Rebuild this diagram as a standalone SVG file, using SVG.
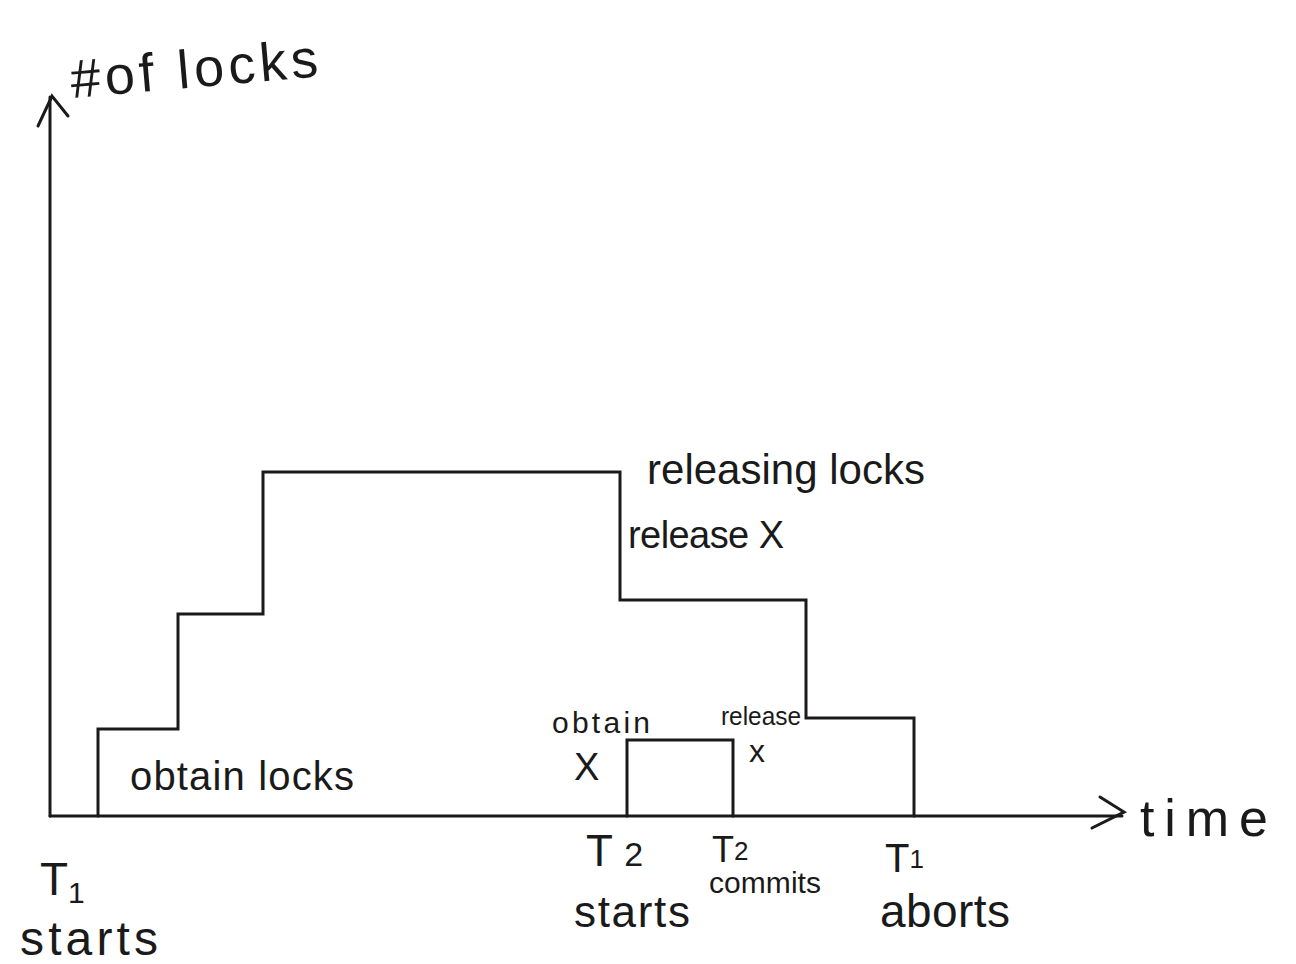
<svg xmlns="http://www.w3.org/2000/svg" width="1296" height="964" viewBox="0 0 1296 964">
<style>
.ln{fill:none;stroke:#1a1a1a;stroke-width:3;stroke-linejoin:miter;stroke-linecap:round}
.t{font-family:"Liberation Sans",Arial,sans-serif;fill:#1a1a1a}
</style>
<rect width="1296" height="964" fill="#fff"/>
<g id="connectors">
<path id="y-axis" class="ln" d="M50,816 V97"/>
<path id="y-arrowhead" class="ln" d="M38,126 L52,96 L68,116"/>
<path id="x-axis" class="ln" d="M50,816 H1122"/>
<path id="x-arrowhead" class="ln" d="M1100,797 L1124,812 L1092,828"/>
<path id="t1-locks" class="ln" d="M98,816 V729 H178 V614 H263 V472 H620 V600 H806 V718 H914 V816"/>
<path id="t2-locks" class="ln" d="M627,816 V740 H733 V816"/>
</g>
<g id="label-ylabel"><text class="t" x="72" y="98" font-size="54" textLength="248" lengthAdjust="spacing" transform="rotate(-5 72 98)">#of locks</text></g>
<g id="label-time"><text class="t" x="1140" y="836" font-size="52" textLength="128" lengthAdjust="spacing">time</text></g>
<g id="label-obtain-locks"><text class="t" x="130" y="790" font-size="40" textLength="224" lengthAdjust="spacing">obtain locks</text></g>
<g id="label-releasing-locks"><text class="t" x="647" y="484" font-size="42" textLength="278" lengthAdjust="spacing">releasing locks</text></g>
<g id="label-release-X"><text class="t" x="628" y="548" font-size="38" textLength="156" lengthAdjust="spacing">release X</text></g>
<g id="label-obtain-X"><text class="t" x="552" y="733" font-size="30" textLength="98" lengthAdjust="spacing">obtain</text><text class="t" x="574" y="780" font-size="38">X</text></g>
<g id="label-release-x2"><text class="t" x="721" y="725" font-size="26" textLength="80" lengthAdjust="spacingAndGlyphs">release</text><text class="t" x="749" y="762" font-size="32">x</text></g>
<g id="label-t1-starts"><text class="t" x="40" y="895" font-size="46">T<tspan font-size="30" dy="8">1</tspan></text><text class="t" x="20" y="955" font-size="48" textLength="138" lengthAdjust="spacing">starts</text></g>
<g id="label-t2-starts"><text class="t" x="586" y="866" font-size="44">T <tspan font-size="34">2</tspan></text><text class="t" x="574" y="927" font-size="44" textLength="116" lengthAdjust="spacing">starts</text></g>
<g id="label-t2-commits"><text class="t" x="712" y="862" font-size="36">T<tspan font-size="26" dy="-2">2</tspan></text><text class="t" x="709" y="893" font-size="30" textLength="112" lengthAdjust="spacing">commits</text></g>
<g id="label-t1-aborts"><text class="t" x="885" y="872" font-size="40">T<tspan font-size="26" dy="-4">1</tspan></text><text class="t" x="880" y="927" font-size="46" textLength="130" lengthAdjust="spacing">aborts</text></g>
</svg>
